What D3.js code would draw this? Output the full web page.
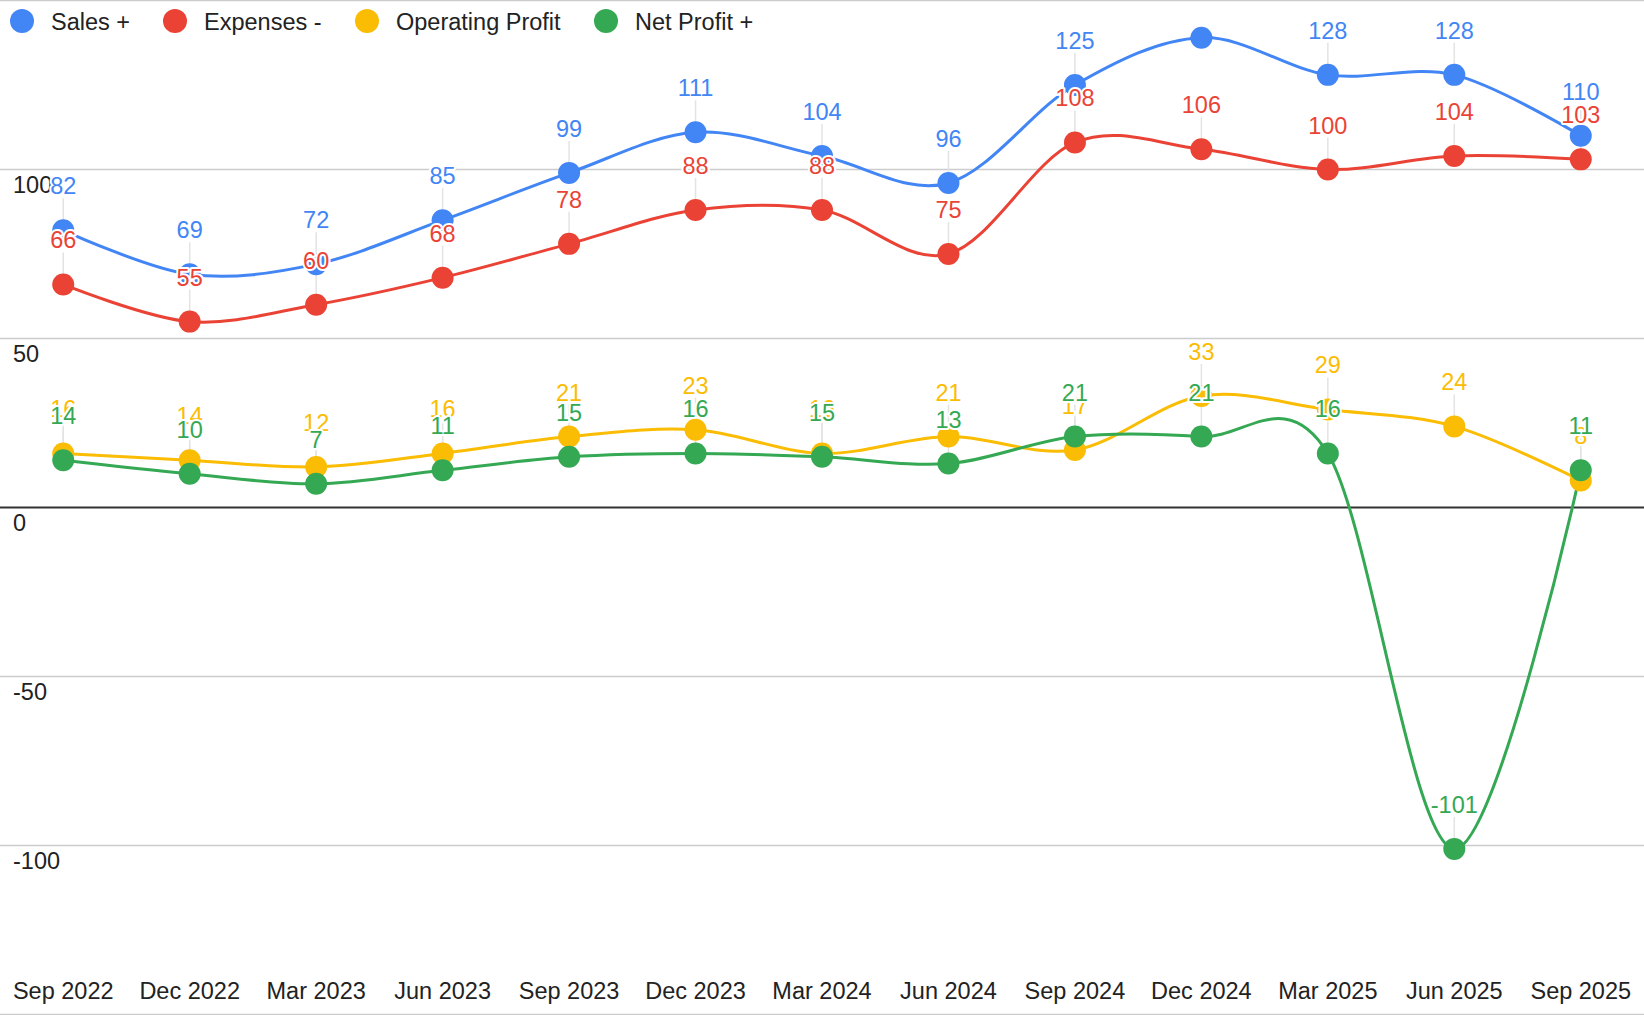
<!DOCTYPE html>
<html>
<head>
<meta charset="utf-8">
<script src="https://cdn.jsdelivr.net/npm/d3@7"></script>
<style>
  html, body { margin: 0; padding: 0; background: #fff; }
  svg { display: block; font-family: "Liberation Sans", Arial, sans-serif; }
</style>
</head>
<body>
<svg id="chart" width="1644" height="1015"></svg>
<script>
const categories = ["Sep 2022","Dec 2022","Mar 2023","Jun 2023","Sep 2023","Dec 2023","Mar 2024","Jun 2024","Sep 2024","Dec 2024","Mar 2025","Jun 2025","Sep 2025"];
const sales = [82,69,72,85,99,111,104,96,125,139,128,128,110];
const expenses = [66,55,60,68,78,88,88,75,108,106,100,104,103];
const operatingProfit = [16,14,12,16,21,23,16,21,17,33,29,24,8];
const netProfit = [14,10,7,11,15,16,15,13,21,21,16,-101,11];
const seriesNames = ["Sales +","Expenses -","Operating Profit","Net Profit +"];
const seriesColors = ["#4285F4","#EA4335","#FBBC04","#34A853"];
const yTicks = [150,100,50,0,-50,-100,-150];
const yLabelTicks = [100,50,0,-50,-100];

const W = 1644, H = 1015;
const FS = 23.5;
const svg = d3.select("#chart");

const x = d3.scaleBand().domain(categories).range([0, W]).padding(0);
const cx = c => x(c) + x.bandwidth() / 2;
const y = d3.scaleLinear().domain([-150, 150]).range([1014.5, 0.5]);

const series = [sales, expenses, operatingProfit, netProfit].map((vals, i) => ({
  name: seriesNames[i], color: seriesColors[i],
  points: vals.map((v, j) => ({cat: categories[j], v}))
}));

// gridlines
svg.append("g").selectAll("line").data(yTicks.filter(t => t !== 0)).join("line")
  .attr("x1", 0).attr("x2", W)
  .attr("y1", d => y(d)).attr("y2", d => y(d))
  .attr("stroke", "#cccccc").attr("stroke-width", 1.5);
svg.append("line").attr("x1", 0).attr("x2", W)
  .attr("y1", y(0)).attr("y2", y(0))
  .attr("stroke", "#333333").attr("stroke-width", 2);

// y labels (inside)
svg.append("g").selectAll("text").data(yLabelTicks).join("text")
  .attr("x", 13).attr("y", d => y(d) + 23)
  .attr("font-size", FS).attr("fill", "#222")
  .text(d => String(d));

// x labels (inside, at bottom)
svg.append("g").selectAll("text").data(categories).join("text")
  .attr("x", d => cx(d)).attr("y", 999)
  .attr("text-anchor", "middle").attr("font-size", FS).attr("fill", "#222")
  .text(d => d);

const LABEL_OFF = 36;
const visibleLabel = p => y(p.v) - LABEL_OFF - 17 >= 0;

// annotation stems
series.forEach(s => {
  svg.append("g").selectAll("line").data(s.points.filter(visibleLabel)).join("line")
    .attr("x1", p => cx(p.cat)).attr("x2", p => cx(p.cat))
    .attr("y1", p => y(p.v) - LABEL_OFF + 4).attr("y2", p => y(p.v))
    .attr("stroke", "#e3e3e3").attr("stroke-width", 1.5);
});

// lines
const line = d3.line().x(p => cx(p.cat)).y(p => y(p.v)).curve(d3.curveCardinal.tension(0));
series.forEach(s => {
  svg.append("path").datum(s.points)
    .attr("d", line).attr("fill", "none")
    .attr("stroke", s.color).attr("stroke-width", 3);
});

// points
series.forEach(s => {
  svg.append("g").selectAll("circle").data(s.points).join("circle")
    .attr("cx", p => cx(p.cat)).attr("cy", p => y(p.v)).attr("r", 11)
    .attr("fill", s.color);
});

// annotations
series.forEach(s => {
  svg.append("g").selectAll("text").data(s.points.filter(visibleLabel)).join("text")
    .attr("x", p => cx(p.cat)).attr("y", p => y(p.v) - LABEL_OFF)
    .attr("text-anchor", "middle").attr("font-size", FS)
    .attr("fill", s.color).attr("stroke", "#fff").attr("stroke-width", 4)
    .attr("paint-order", "stroke").attr("stroke-linejoin", "round")
    .text(p => p.v);
});

// legend
const legendX = [22, 175, 367, 606];
const lg = svg.append("g").selectAll("g").data(series).join("g")
  .attr("transform", (d, i) => `translate(${legendX[i]},21)`);
lg.append("circle").attr("r", 12).attr("fill", d => d.color);
lg.append("text").attr("x", 29).attr("y", 8.5)
  .attr("font-size", FS).attr("fill", "#222").text(d => d.name);
</script>
</body>
</html>
